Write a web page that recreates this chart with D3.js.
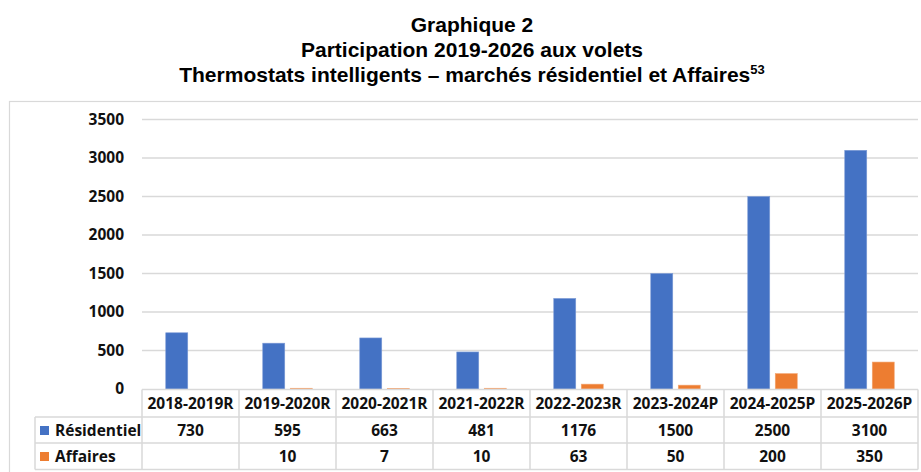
<!DOCTYPE html>
<html>
<head>
<meta charset="utf-8">
<script src="https://cdn.jsdelivr.net/npm/d3@7"></script>
<style>
  html, body { margin: 0; padding: 0; background: #fff; }
  svg { display: block; }
</style>
</head>
<body>
<div id="chart"></div>
<script>
const categories = ["2018-2019R","2019-2020R","2020-2021R","2021-2022R","2022-2023R","2023-2024P","2024-2025P","2025-2026P"];
const seriesNames = ["Résidentiel","Affaires"];
const residentiel = [730, 595, 663, 481, 1176, 1500, 2500, 3100];
const affaires = [null, 10, 7, 10, 63, 50, 200, 350];
const yTicks = [0, 500, 1000, 1500, 2000, 2500, 3000, 3500];
const titleLines = ["Graphique 2", "Participation 2019-2026 aux volets", "Thermostats intelligents – marchés résidentiel et Affaires"];
const titleSup = "53";

const W = 921, H = 472;
const colors = ["#4472C4", "#ED7D31"];
const seriesValues = [residentiel, affaires];

const svg = d3.select("#chart").append("svg").attr("width", W).attr("height", H);

// Frame
svg.append("rect").attr("x", 9.5).attr("y", 101.5).attr("width", W + 20).attr("height", H)
  .attr("fill", "none").attr("stroke", "#d9d9d9").attr("stroke-width", 1.2);

// Title
const title = svg.append("g").attr("font-family", "'Liberation Sans', Arial, sans-serif")
  .attr("font-weight", "bold").attr("font-size", 21).attr("fill", "#000").attr("text-anchor", "middle");
const titleY = [32, 57, 82];
titleLines.forEach((t, i) => {
  const txt = title.append("text").attr("x", 472).attr("y", titleY[i]).text(t);
  if (i === 2) {
    txt.append("tspan").attr("font-size", 13).attr("dy", -8).text(titleSup);
  }
});

const plotL = 142, plotR = 918, plotT = 119.5, plotB = 389;
const x0 = d3.scaleBand().domain(categories).range([plotL, plotR]).padding(0);
const x1 = d3.scaleBand().domain(seriesNames).range([0, x0.bandwidth()]).paddingInner(0.2).paddingOuter(0.864);
const y = d3.scaleLinear().domain([0, 3500]).range([plotB, plotT]);

const font = "'Open Sans', sans-serif";

// Gridlines
svg.append("g").selectAll("line").data(yTicks.filter(d => d > 0)).join("line")
  .attr("x1", plotL).attr("x2", plotR)
  .attr("y1", d => y(d)).attr("y2", d => y(d))
  .attr("stroke", "#d9d9d9").attr("stroke-width", 1.3);

// Y axis labels
const yAxis = d3.axisLeft(y).tickValues(yTicks).tickSize(0).tickPadding(0).tickFormat(d3.format("d"));
const yg = svg.append("g").attr("transform", `translate(124,0)`).call(yAxis);
yg.select(".domain").remove();
yg.selectAll("text").attr("font-family", font).attr("font-weight", "bold").attr("font-size", 15.5).attr("fill", "#111");

// Bars
seriesNames.forEach((s, si) => {
  svg.append("g").selectAll("rect")
    .data(categories.map((c, i) => ({c, v: seriesValues[si][i]})).filter(d => d.v != null))
    .join("rect")
    .attr("x", d => x0(d.c) + x1(s))
    .attr("width", x1.bandwidth())
    .attr("y", d => y(d.v))
    .attr("height", d => plotB - y(d.v))
    .attr("fill", colors[si])
    .attr("stroke", si === 0 ? "#7d9bd6" : "#f3a673")
    .attr("stroke-width", 0.6);
});

// Data table
const rowTop = [389.5, 417, 443];
const rowBot = 469.5;
const legendL = 35;
const tg = svg.append("g");
const gridC = "#d9d9d9";
// horizontal lines
tg.append("line").attr("x1", plotL).attr("x2", plotR).attr("y1", rowTop[0]).attr("y2", rowTop[0]).attr("stroke", gridC).attr("stroke-width", 1.5);
[rowTop[1], rowTop[2], rowBot].forEach(yy => {
  tg.append("line").attr("x1", legendL).attr("x2", plotR).attr("y1", yy).attr("y2", yy).attr("stroke", gridC).attr("stroke-width", 1.5);
});
// vertical lines
const colEdges = categories.map(c => x0(c)).concat([plotR]);
colEdges.forEach(xx => {
  tg.append("line").attr("x1", xx).attr("x2", xx).attr("y1", rowTop[0]).attr("y2", rowBot).attr("stroke", gridC).attr("stroke-width", 1.5);
});
tg.append("line").attr("x1", legendL).attr("x2", legendL).attr("y1", rowTop[1]).attr("y2", rowBot).attr("stroke", gridC).attr("stroke-width", 1.5);

// header labels
tg.selectAll("text.hdr").data(categories).join("text").attr("class", "hdr")
  .attr("x", d => x0(d) + x0.bandwidth() / 2).attr("y", 409)
  .attr("text-anchor", "middle").attr("font-family", font).attr("font-weight", "bold")
  .attr("font-size", 15.5).attr("fill", "#111").text(d => d);

const rowBase = [436, 462];
seriesNames.forEach((s, si) => {
  tg.append("rect").attr("x", 40).attr("y", rowBase[si] - 10).attr("width", 9).attr("height", 9).attr("fill", colors[si]);
  tg.append("text").attr("x", 55).attr("y", rowBase[si]).attr("font-family", font).attr("font-weight", "bold")
    .attr("font-size", 15.5).attr("fill", "#111").text(s);
  tg.selectAll("text.v" + si).data(categories.map((c, i) => ({c, v: seriesValues[si][i]}))).join("text")
    .attr("class", "v" + si)
    .attr("x", d => x0(d.c) + x0.bandwidth() / 2).attr("y", rowBase[si])
    .attr("text-anchor", "middle").attr("font-family", font).attr("font-weight", "bold")
    .attr("font-size", 15.5).attr("fill", "#111").text(d => d.v == null ? "" : d.v);
});
</script>
</body>
</html>
